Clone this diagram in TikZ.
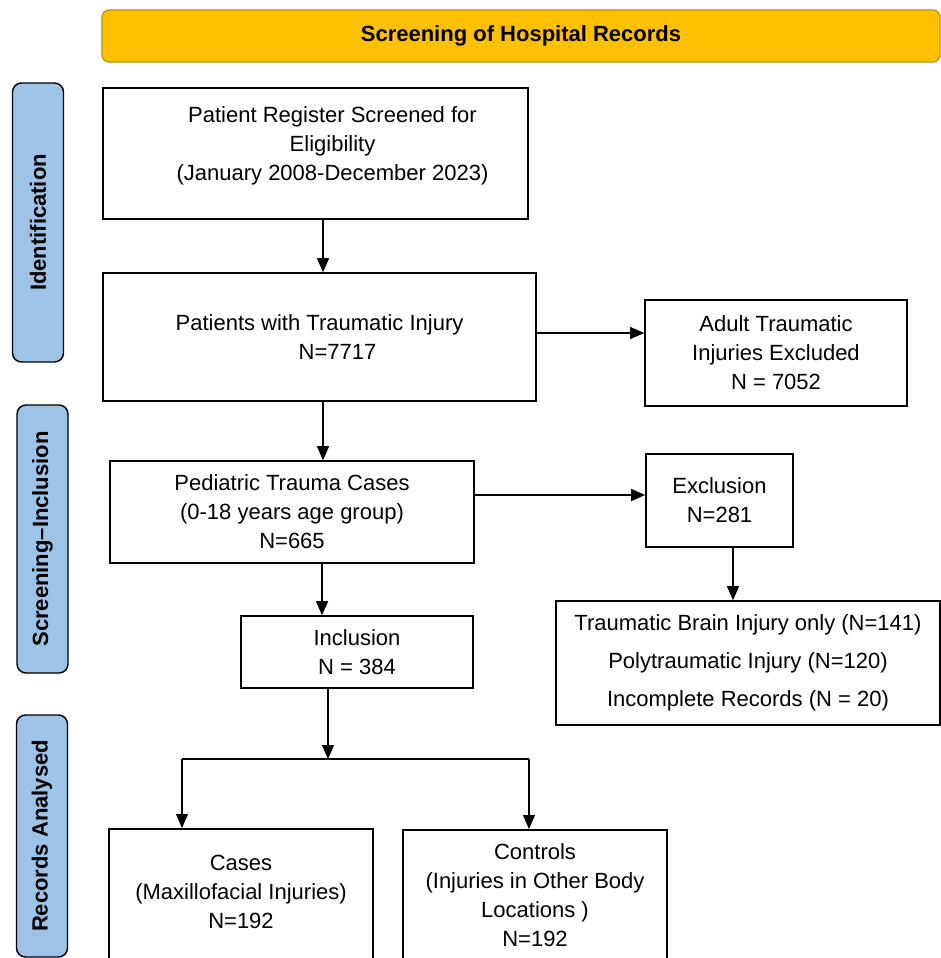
\documentclass[tikz,border=0pt]{standalone}
\usepackage{fontspec}
\setmainfont{Liberation Sans}
\usetikzlibrary{arrows.meta,positioning}
\definecolor{headyellow}{HTML}{FFC000}
\definecolor{headedge}{HTML}{BF9000}
\definecolor{phaseblue}{HTML}{9DC3E6}

\begin{document}
\begin{tikzpicture}[x=1pt,y=-1pt,>={Triangle[length=14pt,width=12pt]},
    main node/.style={draw,line width=1.6pt,align=center,inner sep=0pt,font=\fontsize{22}{29}\selectfont},
    head node/.style={draw=headedge,fill=headyellow,rounded corners=7pt,line width=1.2pt,font=\fontsize{22}{26}\selectfont\bfseries,minimum width=838pt,minimum height=52pt},
    phase node/.style={draw,fill=phaseblue,rounded corners=9pt,line width=1.4pt,rotate=90,font=\fontsize{22}{26}\selectfont\bfseries,minimum height=51pt,inner sep=0pt},
    link/.style={->,line width=1.1pt}]
    \useasboundingbox (0,0) rectangle (941,958);

    \node[head node] (head) at (521,36) {Screening of Hospital Records};

    \node[phase node,minimum width=279pt] (id) at (38,222.5) {Identification};
    \node[phase node,minimum width=268pt] (scr) at (42.5,539) {Screening–Inclusion};
    \node[phase node,minimum width=242pt] (rec) at (42,836) {Records Analysed};

    \node[main node,minimum width=425pt,minimum height=131pt,text depth=20pt] (1) at (315.5,153.5) {\hspace*{34pt}Patient Register Screened for\\\hspace*{34pt}Eligibility\\\hspace*{34pt}(January 2008-December 2023)};
    \node[main node,minimum width=433pt,minimum height=128pt] (2) at (319.5,337) {Patients with Traumatic Injury\\\hspace*{36pt}N=7717};
    \node[main node,minimum width=262pt,minimum height=106pt] (3) at (776,353) {Adult Traumatic\\Injuries Excluded\\N = 7052};
    \node[main node,minimum width=364pt,minimum height=102pt] (4) at (292,512) {Pediatric Trauma Cases\\(0-18 years age group)\\N=665};
    \node[main node,minimum width=147pt,minimum height=93pt] (5) at (719.5,500.5) {Exclusion\\N=281};
    \node[main node,minimum width=384pt,minimum height=124pt,font=\fontsize{22}{38}\selectfont] (6) at (748,663) {Traumatic Brain Injury only (N=141)\\Polytraumatic Injury (N=120)\\Incomplete Records (N = 20)};
    \node[main node,minimum width=232pt,minimum height=72pt] (7) at (357,652) {Inclusion\\N = 384};
    \node[main node,anchor=north,minimum width=264pt,inner ysep=26pt,text depth=60pt] (8) at (241,828) {Cases\\(Maxillofacial Injuries)\\N=192};
    \node[main node,anchor=north,minimum width=264pt,inner ysep=14pt,text depth=40pt] (9) at (535,829) {Controls\\(Injuries in Other Body\\Locations )\\N=192};

    % connectors
    \coordinate (colA) at (323,0);
    \coordinate (colB) at (733,0);
    \coordinate (colC) at (322,0);
    \coordinate (rowA) at (0,333);
    \coordinate (rowB) at (0,495);
    \coordinate (split) at (328,759);
    \coordinate (splitL) at (182,759);
    \coordinate (splitR) at (529,759);

    \draw[link] (1.south -| colA) -- (2.north -| colA);
    \draw[link] (2.south -| colA) -- (4.north -| colA);
    \draw[link] (2.east |- rowA) -- (3.west |- rowA);
    \draw[link] (4.east |- rowB) -- (5.west |- rowB);
    \draw[link] (5.south -| colB) -- (6.north -| colB);
    \draw[link] (4.south -| colC) -- (7.north -| colC);
    \draw[link] (7.south -| split) -- (split);
    \draw[line width=1.1pt] (splitL) -- (splitR);
    \draw[link] (splitL) -- (8.north -| splitL);
    \draw[link] (splitR) -- (9.north -| splitR);
\end{tikzpicture}
\end{document}
